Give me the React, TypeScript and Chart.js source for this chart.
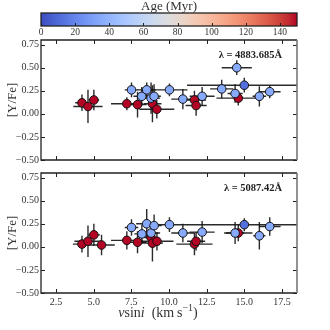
import React, { useEffect, useRef } from 'react';
import { Chart, registerables } from 'chart.js';
Chart.register(...registerables);

// ---- tick labels ----
const ageTicks = [0, 20, 40, 60, 80, 100, 120, 140];
const vsiniTicks = [2.5, 5, 7.5, 10, 12.5, 15, 17.5];
const yfeTicks = [-0.5, -0.25, 0, 0.25, 0.5, 0.75];

// ---- panel: lambda 4883.685 A ----
const vsini4883 = [4.22, 4.62, 5.01, 7.2, 7.91, 8.9, 9.19, 11.69, 11.8, 14.6, 7.51, 8.19, 8.52, 8.81, 9.01, 10.03, 10.92, 12.2, 13.5, 14.5, 14.39, 16.0, 16.69, 15.0];
const yfe4883 = [0.12, 0.08, 0.15, 0.11, 0.1, 0.11, 0.05, 0.15, 0.09, 0.17, 0.26, 0.19, 0.26, 0.17, 0.19, 0.26, 0.16, 0.19, 0.27, 0.5, 0.22, 0.19, 0.24, 0.31];
const vsiniErr4883 = [0.45, 0.97, 0.35, 1.05, 0.6, 0.6, 1.16, 0.77, 0.7, 1.45, 0.45, 0.55, 0.6, 0.6, 0.45, 1.2, 0.77, 0.83, 0.77, 1.0, 0.5, 0.45, 0.72, 3.8];
const yfeErr4883 = [0.09, 0.18, 0.11, 0.07, 0.14, 0.2, 0.1, 0.1, 0.11, 0.08, 0.08, 0.1, 0.08, 0.17, 0.13, 0.07, 0.11, 0.1, 0.1, 0.08, 0.1, 0.11, 0.07, 0.08];
const age4883 = [150, 150, 150, 150, 150, 150, 150, 150, 150, 150, 35, 35, 35, 35, 35, 35, 35, 35, 35, 35, 35, 35, 35, 12];

// ---- panel: lambda 5087.42 A ----
const vsini5087 = [4.22, 4.62, 5.01, 5.52, 7.2, 7.91, 8.81, 8.9, 9.2, 11.69, 11.8, 14.6, 7.51, 8.2, 8.52, 8.81, 9.01, 10.03, 10.92, 12.2, 14.39, 16.0, 16.69, 15.0];
const yfe5087 = [0.03, 0.06, 0.13, 0.02, 0.07, 0.05, 0.1, 0.04, 0.06, 0.03, 0.06, 0.15, 0.21, 0.14, 0.25, 0.15, 0.23, 0.24, 0.15, 0.16, 0.15, 0.12, 0.22, 0.24];
const vsiniErr5087 = [0.6, 0.9, 0.4, 0.88, 1.05, 0.6, 0.5, 0.7, 1.1, 1.2, 0.6, 0.94, 0.45, 0.5, 0.7, 0.6, 0.5, 1.2, 0.77, 0.83, 0.6, 0.4, 0.72, 3.8];
const yfeErr5087 = [0.09, 0.17, 0.12, 0.11, 0.1, 0.12, 0.1, 0.2, 0.1, 0.12, 0.1, 0.09, 0.09, 0.1, 0.16, 0.12, 0.12, 0.08, 0.1, 0.12, 0.12, 0.15, 0.1, 0.07];
const age5087 = [150, 150, 150, 150, 150, 150, 150, 150, 150, 150, 150, 150, 35, 35, 35, 35, 35, 35, 35, 35, 35, 35, 35, 12];

const AGE_MIN = 0;
const AGE_MAX = 150;

const CW: number[][] = [
  [59, 76, 192], [68, 90, 204], [77, 104, 215], [87, 117, 225], [98, 130, 234], [108, 142, 241],
  [119, 154, 247], [130, 165, 251], [141, 176, 254], [152, 185, 255], [163, 194, 255], [174, 201, 253],
  [184, 208, 249], [194, 213, 244], [204, 217, 238], [213, 219, 230], [221, 221, 221], [229, 216, 209],
  [236, 211, 197], [241, 204, 184], [245, 196, 172], [247, 187, 160], [247, 177, 148], [247, 166, 137],
  [244, 154, 124], [241, 141, 112], [236, 127, 99], [229, 112, 89], [222, 96, 77], [213, 80, 66],
  [203, 62, 56], [192, 40, 47], [180, 4, 38],
];

function coolwarm(t: number): string {
  const c = Math.max(0, Math.min(1, t)) * (CW.length - 1);
  const i = Math.min(CW.length - 2, Math.floor(c));
  const f = c - i;
  const a = CW[i], b = CW[i + 1];
  const m = (k: number) => Math.round(a[k] + (b[k] - a[k]) * f);
  return `rgb(${m(0)},${m(1)},${m(2)})`;
}

const FONT = '"Liberation Serif", "DejaVu Serif", serif';
const TXT = '#333';
const X_MIN = 1.5, X_MAX = 18.5, Y_MIN = -0.5, Y_MAX = 0.8;

function fmtY(v: number) {
  if (Math.abs(v) < 1e-9) return '0.00';
  return v < 0 ? '\u2212' + Math.abs(v).toFixed(2) : v.toFixed(2);
}

function drawXLabel(ctx: CanvasRenderingContext2D, cx: number, cy: number) {
  const segs = [
    { t: 'v', f: `italic 14px ${FONT}`, dy: 0 },
    { t: 'sin', f: `14px ${FONT}`, dy: 0 },
    { t: 'i', f: `italic 14px ${FONT}`, dy: 0 },
    { t: '  (km\u2009s', f: `14px ${FONT}`, dy: 0 },
    { t: '\u22121', f: `10px ${FONT}`, dy: -6 },
    { t: ')', f: `14px ${FONT}`, dy: 0 },
  ];
  let total = 0;
  const widths = segs.map(s => { ctx.font = s.f; const w = ctx.measureText(s.t).width; total += w; return w; });
  let x = cx - total / 2;
  ctx.fillStyle = TXT;
  ctx.textAlign = 'left';
  ctx.textBaseline = 'alphabetic';
  segs.forEach((s, i) => { ctx.font = s.f; ctx.fillText(s.t, x, cy + s.dy); x += widths[i]; });
}

function panelConfig(xs: number[], ys: number[], xe: number[], ye: number[], ages: number[], lam: string, bottom: boolean) {
  const data = xs.map((v, i) => ({ x: v, y: ys[i] }));
  const colors = ages.map(a => coolwarm((a - AGE_MIN) / (AGE_MAX - AGE_MIN)));
  const errPlugin = {
    id: 'errbars',
    beforeDatasetsDraw(chart: any) {
      const { ctx, chartArea: a, scales } = chart;
      const sx = scales.x, sy = scales.y;
      ctx.save();
      ctx.beginPath();
      ctx.rect(a.left, a.top, a.right - a.left, a.bottom - a.top);
      ctx.clip();
      ctx.strokeStyle = 'rgba(20,20,20,0.9)';
      ctx.lineWidth = 1.4;
      for (let i = 0; i < xs.length; i++) {
        const px = sx.getPixelForValue(xs[i]);
        const py = sy.getPixelForValue(ys[i]);
        ctx.beginPath();
        ctx.moveTo(sx.getPixelForValue(xs[i] - xe[i]), py);
        ctx.lineTo(sx.getPixelForValue(xs[i] + xe[i]), py);
        ctx.moveTo(px, sy.getPixelForValue(ys[i] - ye[i]));
        ctx.lineTo(px, sy.getPixelForValue(ys[i] + ye[i]));
        ctx.stroke();
      }
      ctx.restore();
    },
  };
  const framePlugin = {
    id: 'frame',
    afterDraw(chart: any) {
      const { ctx, chartArea: a, scales } = chart;
      const sx = scales.x, sy = scales.y;
      ctx.save();
      const tl = 4;
      ctx.strokeStyle = '#222';
      ctx.lineWidth = 1;
      ctx.beginPath();
      for (const v of vsiniTicks) {
        const p = Math.round(sx.getPixelForValue(v)) + 0.5;
        ctx.moveTo(p, a.bottom); ctx.lineTo(p, a.bottom - tl);
        ctx.moveTo(p, a.top); ctx.lineTo(p, a.top + tl);
      }
      for (const v of yfeTicks) {
        const p = Math.round(sy.getPixelForValue(v)) + 0.5;
        ctx.moveTo(a.left, p); ctx.lineTo(a.left + tl, p);
        ctx.moveTo(a.right, p); ctx.lineTo(a.right - tl, p);
      }
      ctx.stroke();
      ctx.lineWidth = 1.3;
      ctx.strokeStyle = '#222';
      ctx.beginPath();
      ctx.moveTo(a.right, a.top); ctx.lineTo(a.left, a.top); ctx.lineTo(a.left, a.bottom); ctx.lineTo(a.right, a.bottom);
      ctx.stroke();
      ctx.strokeStyle = '#777';
      ctx.lineWidth = 1.6;
      ctx.beginPath();
      ctx.moveTo(a.right, a.top); ctx.lineTo(a.right, a.bottom);
      ctx.stroke();
      // annotation
      ctx.fillStyle = '#222';
      ctx.font = `bold 10.5px ${FONT}`;
      ctx.textAlign = 'right';
      ctx.textBaseline = 'middle';
      ctx.fillText(lam, a.right - 15, a.top + 15);
      if (bottom) drawXLabel(ctx, (a.left + a.right) / 2 - 11, a.bottom + 24);
      ctx.restore();
    },
  };
  return {
    type: 'scatter',
    data: {
      datasets: [{
        data,
        pointRadius: 4.3,
        pointHoverRadius: 4.3,
        pointBackgroundColor: colors,
        pointBorderColor: '#111',
        pointBorderWidth: 1,
      }],
    },
    options: {
      animation: false,
      responsive: false,
      events: [],
      layout: { padding: { top: bottom ? 8 : 10, right: 33, left: 0, bottom: 0 } },
      plugins: { legend: { display: false }, tooltip: { enabled: false }, title: { display: false } },
      scales: {
        x: {
          type: 'linear', min: X_MIN, max: X_MAX,
          afterBuildTicks: (s: any) => { s.ticks = vsiniTicks.map(v => ({ value: v })); },
          afterFit: (s: any) => { s.height = bottom ? 37 : 10; },
          grid: { display: false, drawTicks: false },
          border: { display: false },
          ticks: { display: bottom, padding: 3, color: TXT, font: { family: FONT, size: 10 }, callback: (v: any) => Number(v).toFixed(1), maxRotation: 0, autoSkip: false },
        },
        y: {
          type: 'linear', min: Y_MIN, max: Y_MAX,
          afterBuildTicks: (s: any) => { s.ticks = yfeTicks.map(v => ({ value: v })); },
          afterFit: (s: any) => { s.width = 41; },
          grid: { display: false, drawTicks: false },
          border: { display: false },
          ticks: { padding: 2, color: TXT, font: { family: FONT, size: 10 }, callback: (v: any) => fmtY(Number(v)), autoSkip: false },
          title: { display: true, text: '[Y/Fe]', color: TXT, font: { family: FONT, size: 13 }, padding: { top: 5, bottom: 0 } },
        },
      },
    },
    plugins: [errPlugin, framePlugin],
  };
}

function colorbarConfig() {
  const cbPlugin = {
    id: 'cbar',
    beforeDatasetsDraw(chart: any) {
      const { ctx, chartArea: a, scales } = chart;
      const sx = scales.x;
      ctx.save();
      const g = ctx.createLinearGradient(a.left, 0, a.right, 0);
      CW.forEach((c, i) => g.addColorStop(i / (CW.length - 1), `rgb(${c[0]},${c[1]},${c[2]})`));
      ctx.fillStyle = g;
      ctx.fillRect(a.left, a.top, a.right - a.left, a.bottom - a.top);
      ctx.strokeStyle = '#222';
      ctx.lineWidth = 1;
      ctx.beginPath();
      for (const v of ageTicks) {
        const p = Math.round(sx.getPixelForValue(v)) + 0.5;
        ctx.moveTo(p, a.bottom); ctx.lineTo(p, a.bottom - 3);
      }
      ctx.stroke();
      ctx.lineWidth = 1.3;
      ctx.strokeRect(a.left, a.top, a.right - a.left, a.bottom - a.top);
      ctx.fillStyle = TXT;
      ctx.font = `13px ${FONT}`;
      ctx.textAlign = 'center';
      ctx.textBaseline = 'middle';
      ctx.fillText('Age (Myr)', (a.left + a.right) / 2, a.top - 6);
      ctx.restore();
    },
  };
  return {
    type: 'scatter',
    data: { datasets: [{ data: [] as any[] }] },
    options: {
      animation: false,
      responsive: false,
      events: [],
      layout: { padding: { top: 13, right: 33, left: 41, bottom: 0 } },
      plugins: { legend: { display: false }, tooltip: { enabled: false } },
      scales: {
        x: {
          type: 'linear', min: AGE_MIN, max: AGE_MAX,
          afterBuildTicks: (s: any) => { s.ticks = ageTicks.map(v => ({ value: v })); },
          afterFit: (s: any) => { s.height = 14; },
          grid: { display: false, drawTicks: false },
          border: { display: false },
          ticks: { padding: 1, color: TXT, font: { family: FONT, size: 9.5 }, maxRotation: 0, autoSkip: false },
        },
        y: { display: false, min: 0, max: 1 },
      },
    },
    plugins: [cbPlugin],
  };
}

export default function App() {
  const cbRef = useRef<HTMLCanvasElement>(null);
  const topRef = useRef<HTMLCanvasElement>(null);
  const botRef = useRef<HTMLCanvasElement>(null);
  useEffect(() => {
    const charts: Chart[] = [];
    charts.push(new Chart(cbRef.current as HTMLCanvasElement, colorbarConfig() as any));
    charts.push(new Chart(topRef.current as HTMLCanvasElement, panelConfig(vsini4883, yfe4883, vsiniErr4883, yfeErr4883, age4883, '\u03bb = 4883.685\u00c5', false) as any));
    charts.push(new Chart(botRef.current as HTMLCanvasElement, panelConfig(vsini5087, yfe5087, vsiniErr5087, yfeErr5087, age5087, '\u03bb = 5087.42\u00c5', true) as any));
    return () => charts.forEach(c => c.destroy());
  }, []);
  const abs = (top: number, h: number): React.CSSProperties => ({ position: 'absolute', left: 0, top, width: 330, height: h });
  return (
    <div style={{ position: 'fixed', left: 0, top: 0, width: 330, height: 330, background: '#fff' }}>
      <canvas ref={cbRef} width={330} height={40} style={abs(0, 40)} />
      <canvas ref={topRef} width={330} height={140} style={abs(30, 140)} />
      <canvas ref={botRef} width={330} height={165} style={abs(165, 165)} />
    </div>
  );
}
